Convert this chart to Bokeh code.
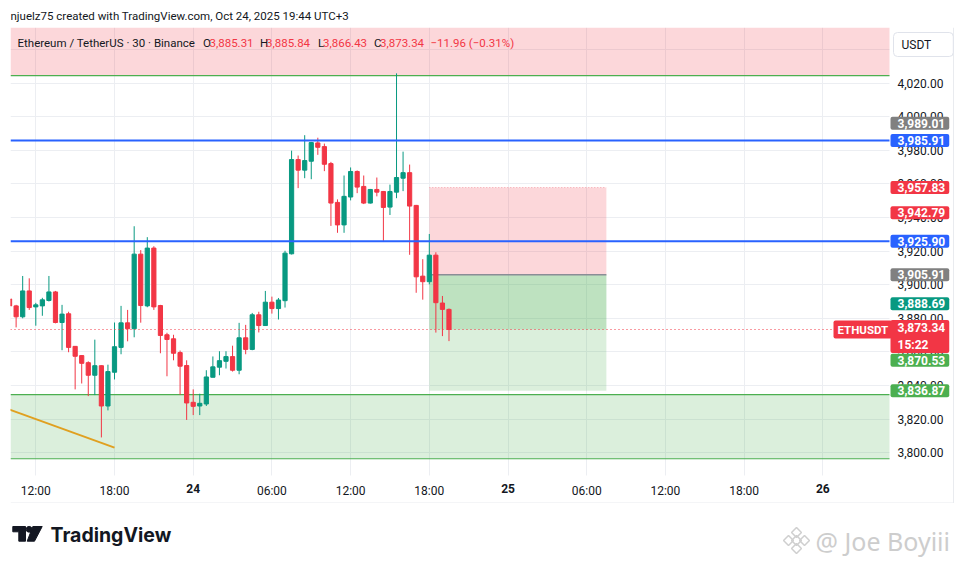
import pandas as pd
from bokeh.plotting import figure
from bokeh.models import (ColumnDataSource, FixedTicker, NumeralTickFormatter, BoxAnnotation,
                          Label, Range1d, LinearAxis)
from bokeh.layouts import column
from bokeh.embed import file_html
from bokeh.resources import INLINE
from bokeh.core.properties import value

# ---------------- data ----------------
first_bar = "2025-10-23 10:00"   # 30-minute bars
opens = [3891.5, 3887.4, 3880.9, 3896.3, 3886.8, 3887.4, 3890.6, 3895.7, 3877.5, 3882.7,
         3863.3, 3857.8, 3853.6, 3846.1, 3851.8, 3827.8, 3847.9, 3862.7, 3877.3, 3873.8,
         3918.2, 3887.4, 3921.8, 3887.6, 3870.2, 3867.8, 3859.6, 3851.9, 3830.0, 3827.8,
         3829.0, 3844.9, 3850.9, 3854.4, 3857.2, 3849.1, 3868.4, 3861.5, 3882.1, 3875.7,
         3889.6, 3885.8, 3890.5, 3918.4, 3974.5, 3968.2, 3973.5, 3984.4, 3982.2, 3972.1,
         3949.0, 3935.6, 3952.2, 3967.4, 3958.5, 3948.6, 3956.7, 3955.5, 3946.2, 3955.1,
         3963.4, 3966.7, 3947.2, 3905.1, 3901.8, 3917.6, 3889.1, 3885.31]
highs = [3891.5, 3888.0, 3905.2, 3903.8, 3889.2, 3892.2, 3905.2, 3896.3, 3888.0, 3883.9,
         3863.5, 3858.0, 3854.4, 3867.3, 3852.0, 3852.4, 3877.5, 3887.4, 3885.0, 3934.8,
         3920.6, 3928.3, 3922.9, 3888.0, 3871.4, 3870.2, 3860.8, 3855.0, 3837.7, 3835.1,
         3849.1, 3857.3, 3860.4, 3860.4, 3863.7, 3877.3, 3876.1, 3883.2, 3883.9, 3896.3,
         3892.9, 3892.1, 3920.2, 3979.8, 3976.9, 3989.01, 3985.0, 3987.5, 3984.0, 3973.1,
         3950.8, 3965.0, 3969.8, 3968.0, 3965.0, 3957.0, 3963.8, 3955.8, 3959.6, 4025.8,
         3979.2, 3971.5, 3947.5, 3915.2, 3930.2, 3919.3, 3893.3, 3885.84]
lows = [3878.6, 3874.6, 3880.0, 3885.0, 3875.6, 3881.5, 3890.0, 3877.0, 3861.0, 3859.8,
        3837.7, 3841.2, 3833.7, 3834.3, 3809.1, 3825.2, 3843.6, 3858.6, 3866.3, 3868.7,
        3877.4, 3886.6, 3885.0, 3859.2, 3845.5, 3855.0, 3834.5, 3819.5, 3822.4, 3822.4,
        3827.8, 3844.9, 3846.1, 3850.1, 3848.3, 3846.7, 3858.6, 3861.0, 3871.6, 3875.5,
        3882.8, 3879.3, 3886.4, 3918.0, 3957.5, 3963.4, 3962.8, 3977.3, 3967.6, 3935.0,
        3930.9, 3930.9, 3950.2, 3954.5, 3948.0, 3948.3, 3952.6, 3926.1, 3941.5, 3951.5,
        3955.7, 3917.8, 3895.2, 3891.1, 3900.2, 3871.5, 3869.4, 3866.43]
closes = [3887.4, 3880.9, 3896.3, 3886.4, 3888.0, 3891.0, 3895.7, 3877.5, 3882.5, 3862.7,
          3857.4, 3853.2, 3846.1, 3851.8, 3827.8, 3848.3, 3863.1, 3877.3, 3873.8, 3918.2,
          3887.6, 3921.8, 3886.8, 3869.8, 3867.4, 3859.2, 3851.5, 3829.6, 3827.6, 3829.4,
          3845.1, 3851.1, 3854.8, 3857.2, 3849.1, 3868.4, 3861.5, 3882.1, 3875.7, 3889.6,
          3885.8, 3890.9, 3918.8, 3974.5, 3968.2, 3973.9, 3984.6, 3981.8, 3971.7, 3948.6,
          3935.6, 3952.6, 3967.4, 3958.1, 3948.6, 3956.7, 3955.1, 3946.0, 3955.5, 3963.8,
          3966.7, 3946.8, 3904.7, 3901.8, 3917.6, 3889.3, 3885.30, 3873.34]

tick_hours = [12, 18, 24, 30, 36, 42, 48, 54, 60, 66, 72]
tick_labels = ["12:00", "18:00", "24", "06:00", "12:00", "18:00", "25", "06:00", "12:00", "18:00", "26"]
day_labels = ["24", "25", "26"]
price_ticks = [3800, 3820, 3840, 3860, 3880, 3900, 3920, 3940, 3960, 3980, 4000, 4020, 4040]

blue_levels = [3985.91, 3925.90]
resistance_bottom = 4024.5
support_zone = [3796.4, 3834.6]
trend_hours = [10.0, 18.0]
trend_prices = [3825.7, 3803.0]
position_hours = [42.0, 55.5]
pos_stop, pos_entry, pos_target = 3957.83, 3905.91, 3836.87
last_price = 3873.34
countdown = "15:22"

badge_prices = [3989.01, 3985.91, 3957.83, 3942.79, 3925.90, 3905.91, 3888.69, 3870.53, 3836.87]
badge_colors = ["#808080", "#2962ff", "#f23645", "#f23645", "#2962ff", "#808080", "#089981", "#4caf50", "#4caf50"]
badge_shift = [12, 0, 0, 0, 0, 0, 0, -26, 0]   # label collision shifts (px)

symbol_text = "Ethereum / TetherUS \u00b7 30 \u00b7 Binance"
ohlc_names = ["O", "H", "L", "C"]
ohlc_values = [3885.31, 3885.84, 3866.43, 3873.34]
change_text = "\u221211.96 (\u22120.31%)"
attribution = "njuelz75 created with TradingView.com, Oct 24, 2025 19:44 UTC+3"

UP, DOWN = "#089981", "#f23645"
FONT = "Roboto"
TXT = "#131722"

# ---------------- layout helpers (page px -> data) ----------------
PX12, PXH = 35.3, 13.117
def hx(px):
    return 12 + (px - PX12) / PXH
def py(pg):
    return 3925.9 + (240.7 - pg) / 1.68

CHART_RIGHT = hx(889)
CHART_BOTTOM = py(475)

times = pd.date_range(first_bar, periods=len(opens), freq="30min")
hours = ((times - pd.Timestamp("2025-10-23")) / pd.Timedelta(hours=1)).tolist()

src = ColumnDataSource(dict(
    t=hours, o=opens, h=highs, l=lows, c=closes,
    top=[max(a, b) for a, b in zip(opens, closes)],
    bot=[min(a, b) for a, b in zip(opens, closes)],
    color=[UP if c >= o else DOWN for o, c in zip(opens, closes)],
))

W = 965

def blank(h):
    f = figure(width=W, height=h, x_range=Range1d(10, W), y_range=Range1d(h, 0),
               output_backend="svg", toolbar_location=None, title=None,
               min_border_left=10, min_border_right=0, min_border_top=0, min_border_bottom=0)
    f.axis.visible = False
    f.grid.visible = False
    f.outline_line_color = None
    return f

# ---------------- header ----------------
hdr = blank(27)
hdr.text(x=[10], y=[15], text=[attribution], text_font=value(FONT), text_font_size="11.5px",
         text_color=TXT, text_baseline="middle", text_align="left")

# ---------------- main chart ----------------
p = figure(width=W, height=476, x_range=Range1d(hx(10), hx(965)), y_range=Range1d(py(503), py(27)),
           output_backend="svg", toolbar_location=None, title=None, y_axis_location="right",
           min_border_left=10, min_border_right=0, min_border_top=0, min_border_bottom=0)
p.outline_line_color = None
p.background_fill_color = "white"

p.xaxis.ticker = FixedTicker(ticks=tick_hours)
p.xaxis.major_label_overrides = {h: ("" if lab in day_labels else lab) for h, lab in zip(tick_hours, tick_labels)}
p.xaxis.fixed_location = CHART_BOTTOM
p.yaxis.ticker = FixedTicker(ticks=price_ticks)
p.yaxis.formatter = NumeralTickFormatter(format="0,0.00")
p.yaxis.fixed_location = CHART_RIGHT

day_axis = LinearAxis(ticker=FixedTicker(ticks=[h for h, lab in zip(tick_hours, tick_labels) if lab in day_labels]),
                      major_label_overrides={h: lab for h, lab in zip(tick_hours, tick_labels) if lab in day_labels},
                      fixed_location=CHART_BOTTOM)
p.add_layout(day_axis, "below")
for ax in (p.xaxis[0], p.yaxis[0], day_axis):
    ax.axis_line_color = None
    ax.major_tick_line_color = None
    ax.minor_tick_line_color = None
    ax.major_tick_out = 0
    ax.major_tick_in = 0
    ax.minor_tick_out = 0
    ax.major_label_text_font = FONT
    ax.major_label_text_font_size = "12px"
    ax.major_label_text_color = TXT
p.xaxis[0].major_label_standoff = 8
day_axis.major_label_standoff = 8
day_axis.major_label_text_font_style = "bold"
p.yaxis[0].major_label_standoff = 8
p.xgrid.ticker = FixedTicker(ticks=tick_hours)
p.ygrid.ticker = FixedTicker(ticks=price_ticks)
p.grid.grid_line_color = "#eceef2"
p.grid.grid_line_width = 1

# white price-scale and time-scale areas over the grid
p.add_layout(BoxAnnotation(left=CHART_RIGHT, fill_color="white", fill_alpha=1, line_color=None,
                           level="underlay"))
p.add_layout(BoxAnnotation(top=CHART_BOTTOM, fill_color="white", fill_alpha=1, line_color=None,
                           level="underlay"))

# zones
p.add_layout(BoxAnnotation(right=CHART_RIGHT, bottom=resistance_bottom, fill_color="#f23645", fill_alpha=0.2,
                           line_color=None, level="underlay"))
p.add_layout(BoxAnnotation(right=CHART_RIGHT, bottom=support_zone[0], top=support_zone[1], fill_color="#4caf50",
                           fill_alpha=0.2, line_color=None, level="underlay"))
x_left = hx(10)
for lv in [resistance_bottom] + support_zone:
    p.segment(x0=[x_left], x1=[CHART_RIGHT], y0=[lv], y1=[lv], line_color="#4caf50", line_width=1.2)

# position tool
p.add_layout(BoxAnnotation(left=position_hours[0], right=position_hours[1], bottom=pos_entry, top=pos_stop,
                           fill_color="#f23645", fill_alpha=0.2, line_color=None, level="underlay"))
p.add_layout(BoxAnnotation(left=position_hours[0], right=position_hours[1], bottom=pos_target, top=pos_entry,
                           fill_color="#4caf50", fill_alpha=0.2, line_color=None, level="underlay"))
p.add_layout(BoxAnnotation(left=position_hours[0], right=position_hours[1], bottom=last_price, top=pos_entry,
                           fill_color="#4caf50", fill_alpha=0.2, line_color=None, level="underlay"))
p.segment(x0=[position_hours[0]], x1=[position_hours[1]], y0=[pos_entry], y1=[pos_entry],
          line_color="#8a8d96", line_width=1.5)
p.segment(x0=[position_hours[0]], x1=[position_hours[1]], y0=[pos_stop], y1=[pos_stop],
          line_color="#f5a3aa", line_width=1, line_dash="1 2")

# trend line
p.line(trend_hours, trend_prices, line_color="#e0a020", line_width=2)

# candles
p.segment(x0="t", y0="h", x1="t", y1="l", source=src, line_color="color", line_width=1)
p.vbar(x="t", width=0.32, top="top", bottom="bot", source=src, fill_color="color",
       line_color="color", line_width=1)

# horizontal levels
p.segment(x0=[x_left] * len(blue_levels), x1=[CHART_RIGHT] * len(blue_levels), y0=blue_levels, y1=blue_levels,
          line_color="#2962ff", line_width=2)
p.segment(x0=[x_left], x1=[CHART_RIGHT], y0=[last_price], y1=[last_price], line_color=DOWN,
          line_width=1, line_dash="1 3")

# faint panel border (right and bottom edges)
p.segment(x0=[hx(953), x_left], x1=[hx(953), hx(953)], y0=[py(27), py(502.5)], y1=[py(502.5), py(502.5)],
          line_color="#e9ebef", line_width=1)

# header text inside chart
hy = py(42)
HF = "11.5px"
p.add_layout(Label(x=hx(17), y=hy, text=symbol_text, text_font=FONT, text_font_size=HF,
                   text_color=TXT, text_baseline="middle"))
name_px = [202.5, 259.5, 317.5, 373.5]
val_px = [209, 265.5, 322.5, 379.5]
for nm, v, nx, vx in zip(ohlc_names, ohlc_values, name_px, val_px):
    p.add_layout(Label(x=hx(nx), y=hy, text=nm, text_font=FONT, text_font_size=HF,
                       text_color=TXT, text_baseline="middle"))
    p.add_layout(Label(x=hx(vx), y=hy, text=f"{v:,.2f}", text_font=FONT, text_font_size=HF,
                       text_color=DOWN, text_baseline="middle"))
p.add_layout(Label(x=hx(430), y=hy, text=change_text, text_font=FONT, text_font_size=HF,
                   text_color=DOWN, text_baseline="middle"))

# symbol badge on last price line
p.add_layout(Label(x=hx(833), y=last_price, text="ETHUSDT", text_font=FONT, text_font_size="11.5px",
                   text_font_style="bold", text_color="white", text_baseline="middle",
                   background_fill_color=DOWN, padding=dict(left=4, right=4, top=2, bottom=2),
                   border_radius=2))

# price-scale badges
bx = hx(890)
for pr, col, sh in zip(badge_prices, badge_colors, badge_shift):
    p.add_layout(Label(x=bx, y=pr, y_offset=sh, text=f"{pr:,.2f}", text_font=FONT, text_font_size="12px",
                       text_font_style="bold", text_color="white", text_baseline="middle",
                       background_fill_color=col, padding=dict(left=7, right=4, top=2, bottom=2),
                       border_radius=2))
p.add_layout(Label(x=bx, y=last_price, y_offset=-7, text=f"{last_price:,.2f}\n{countdown}", text_font=FONT,
                   text_font_size="12px", text_font_style="bold", text_color="white",
                   text_baseline="middle", background_fill_color=DOWN,
                   padding=dict(left=7, right=4, top=1, bottom=1), border_radius=2))
# currency box
p.add_layout(Label(x=hx(893), y=py(44), text="USDT", text_font=FONT, text_font_size="12px",
                   text_color=TXT, text_baseline="middle", background_fill_color="white",
                   border_line_color="#e0e3eb", padding=dict(left=8, right=22, top=5, bottom=5),
                   border_radius=4))

# ---------------- footer ----------------
ftr = blank(61)
ftr.patch([12.3, 25, 25, 18.3, 18.3, 12.3], [23, 23, 37.7, 37.7, 28.3, 28.3], color=TXT)
ftr.circle(x=[28.6], y=[25.8], radius=2.9, color=TXT)
ftr.patch([32.3, 41.7, 34, 26.7], [23, 23, 37.7, 37.7], color=TXT)
ftr.text(x=[50], y=[31.5], text=["TradingView"], text_font=value("Inter"), text_font_size="19.5px",
         text_font_style="bold", text_color=TXT, text_baseline="middle")
# watermark
ftr.scatter(x=[796, 788, 804, 796, 796], y=[37, 37, 37, 29, 45], marker="square", size=7, angle=0.785,
            fill_color=None, line_color="#cfcfcf", line_width=1.5)
ftr.text(x=[815], y=[37.5], text=["@ Joe Boyiii"], text_font=value("Noto Sans"), text_font_size="25px",
         text_color="#cdcdcd", text_baseline="middle")

layout = column(hdr, p, ftr, spacing=0)
open("out.html", "w").write(file_html(layout, INLINE))
